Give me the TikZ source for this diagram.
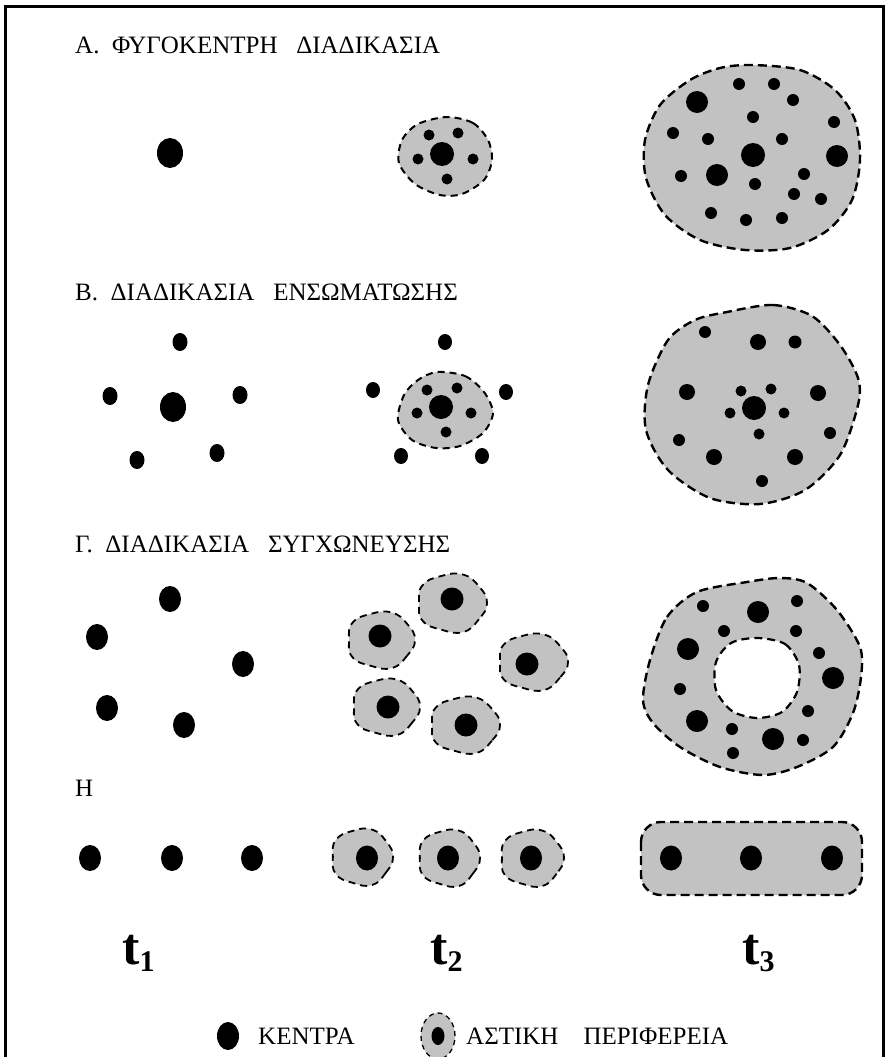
\documentclass[tikz,border=0pt]{standalone}
\usepackage{fontspec}
\setmainfont{Liberation Serif}
\tikzset{
  blob/.style={fill=black!24, draw=black, line width=2.4pt, dash pattern=on 9pt off 5pt},
  sblob/.style={blob, line width=1.8pt, dash pattern=on 7pt off 5pt},
  hole/.style={fill=white, draw=black, line width=2.2pt, dash pattern=on 8pt off 5pt},
  title/.style={anchor=base west, inner sep=0pt, font=\fontsize{25}{25}\selectfont},
  tlab/.style={anchor=base west, inner sep=0pt, font=\fontsize{52}{52}\selectfont\bfseries},
  frame/.style={line width=3pt},
}
\newcommand\ctr[3]{\fill (#1,#2) circle[radius=#3pt];}
\newcommand\ectr[4]{\fill (#1,#2) ellipse[x radius=#3pt, y radius=#4pt];}
\newcommand\sblobat[4]{%
  \draw[sblob, shift={(#1,#2)}] plot[smooth cycle, tension=0.8] coordinates {
    ({#3*1.00*cos(0)},{#4*1.00*sin(0)})
    ({#3*0.95*cos(36)},{#4*0.95*sin(36)})
    ({#3*1.05*cos(72)},{#4*1.05*sin(72)})
    ({#3*0.97*cos(108)},{#4*0.97*sin(108)})
    ({#3*1.04*cos(144)},{#4*1.04*sin(144)})
    ({#3*0.94*cos(180)},{#4*0.94*sin(180)})
    ({#3*1.04*cos(216)},{#4*1.04*sin(216)})
    ({#3*0.98*cos(252)},{#4*0.98*sin(252)})
    ({#3*1.03*cos(288)},{#4*1.03*sin(288)})
    ({#3*0.96*cos(324)},{#4*0.96*sin(324)})
  };}
\newcommand\tsub[1]{t\raisebox{-7pt}{\fontsize{30}{30}\selectfont #1}}
\begin{document}
\begin{tikzpicture}[x=1pt,y=-1pt]
\useasboundingbox (0,0) rectangle (888,1057);
\fill[white] (0,0) rectangle (888,1057);
\draw[frame] (5,1060) -- (5,7) -- (883,7) -- (883,1060);

% ---------- titles
\node[title] (tA) at (75,53) {Α.\ \ ΦΥΓΟΚΕΝΤΡΗ\ \ \ ΔΙΑΔΙΚΑΣΙΑ};
\node[title] (tB) at (75,300) {Β.\ \ ΔΙΑΔΙΚΑΣΙΑ\ \ \ ΕΝΣΩΜΑΤΩΣΗΣ};
\node[title] (tC) at (75,552) {Γ.\ \ ΔΙΑΔΙΚΑΣΙΑ\ \ \ ΣΥΓΧΩΝΕΥΣΗΣ};
\node[title] (tD) at (75,796) {Η};

% ---------- row A
\ectr{170}{153}{13}{15}
\draw[blob, line width=2pt, dash pattern=on 7pt off 5pt] plot[smooth cycle] coordinates {
 (447,117) (473,123) (488,140) (492,160) (484,180) (462,194) (440,195) (415,184) (399,163) (402,140) (418,124)};
\ctr{442}{154}{12}
\foreach \x/\y in {429/135,458/133,418/159,473/159,447/179} {\ctr{\x}{\y}{5.5}}

\draw[blob] plot[smooth cycle] coordinates {
 (752,65) (800,70) (835,90) (855,120) (860,160) (852,200) (828,230) (790,248) (745,250) (700,240) (665,215) (646,178) (645,140) (660,105) (690,80) (720,68)};
\foreach \x/\y/\r in {697/102/11,739/84/6,774/84/6,793/100/6,753/117/6,834/122/6,673/133/6,708/139/6,782/139/6,753/155/12,837/156/11,717/175/11,681/176/6,804/174/6,755/184/6,794/194/6,821/199/6,711/213/6,746/220/6,782/218/6} {\ctr{\x}{\y}{\r}}

% ---------- row B
\ectr{173}{407}{13}{15}
\foreach \x/\y in {180/342,110/396,240/395,137/460,217/453} {\ectr{\x}{\y}{7.5}{9}}

\foreach \x/\y in {445/342,373/390,506/392,401/456,482/456} {\ectr{\x}{\y}{7}{8}}
\draw[blob, line width=2pt, dash pattern=on 7pt off 5pt] plot[smooth cycle] coordinates {
 (437,372) (465,376) (484,392) (493,413) (483,433) (460,446) (436,448) (412,440) (398,420) (404,395) (418,380)};
\ctr{441}{407}{12}
\foreach \x/\y in {427/390,457/388,417/413,471/413,446/432} {\ctr{\x}{\y}{5.5}}

\draw[blob] plot[smooth cycle] coordinates {
 (727,312) (773,305) (812,316) (840,345) (858,378) (858,405) (840,455) (805,490) (760,504) (710,498) (668,470) (646,430) (648,385) (668,340) (695,320)};
\foreach \x/\y/\r in {705/332/6,758/342/8,795/342/6.5,687/392/8,818/393/8,741/391/5.5,771/389/5.5,754/408/12,730/413/5.5,784/413/5.5,759/434/5.5,830/433/6,679/440/6,714/457/8,795/457/8,762/481/6} {\ctr{\x}{\y}{\r}}

% ---------- row C
\foreach \x/\y in {170/599,97/637,243/664,107/708,184/725} {\ectr{\x}{\y}{11}{13}}

\sblobat{452}{603}{35}{29}
\sblobat{381}{640}{34}{28}
\sblobat{533}{662}{35}{28}
\sblobat{386}{707}{34}{28}
\sblobat{465}{725}{35}{28}
\foreach \x/\y in {452/599,380/636,527/664,388/707,466/725} {\ctr{\x}{\y}{11.5}}

\draw[blob] plot[smooth cycle] coordinates {
 (650,660) (667,617) (697,592) (747,582) (780,578) (807,583) (837,610) (860,647) (861,677) (853,713) (833,747) (797,767) (763,775) (720,767) (680,747) (653,723) (643,700)};
\draw[hole] plot[smooth cycle] coordinates {
 (757,638) (785,644) (799,665) (797,692) (782,712) (757,718) (732,711) (716,690) (716,662) (731,643)};
\foreach \x/\y/\r in {703/606/6,758/612/11,797/601/6,724/631/6,796/631/6,688/649/11,819/653/6,833/678/11,680/689/6,808/711/6,697/721/11,732/729/6,773/739/11,803/740/6,733/753/6} {\ctr{\x}{\y}{\r}}

% ---------- row D
\foreach \x in {90,172,252} {\ectr{\x}{858}{11}{13}}
\sblobat{362}{857}{31}{28}
\sblobat{449}{858}{31}{28}
\sblobat{532}{858}{32}{28}
\foreach \x in {367,448,531} {\ectr{\x}{858}{11}{12.5}}
\draw[blob, rounded corners=20pt] (641,822) rectangle (862,895);
\foreach \x in {671,751,832} {\ectr{\x}{858}{11}{12.5}}

% ---------- time labels
\node[tlab] (t1) at (122,964) {\tsub{1}};
\node[tlab] (t2) at (430,964) {\tsub{2}};
\node[tlab] (t3) at (742,964) {\tsub{3}};

% ---------- legend
\ectr{228}{1036}{11}{14}
\node[title] (l1) at (258,1044) {ΚΕΝΤΡΑ};
\draw[sblob, line width=1.3pt, dash pattern=on 5pt off 4pt] (438,1036) ellipse[x radius=17pt, y radius=23pt];
\ectr{438}{1036}{6.5}{9}
\node[title] (l2) at (466,1044) {ΑΣΤΙΚΗ\ \ \ \ ΠΕΡΙΦΕΡΕΙΑ};
\end{tikzpicture}
\end{document}
